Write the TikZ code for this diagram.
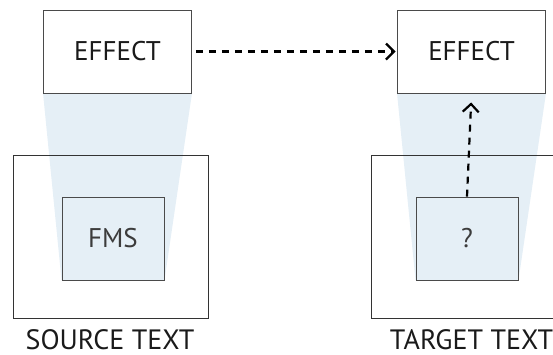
\documentclass[tikz,border=0pt]{standalone}
\usepackage{fontspec}
\setmainfont{PT Sans}
\usetikzlibrary{arrows.meta,backgrounds}
\definecolor{lens}{HTML}{E5EFF6}
\definecolor{edge}{HTML}{4A4A4A}
\definecolor{ink}{HTML}{1A1A1A}
\tikzset{
  lbl/.style={font=\fontsize{27}{32}\selectfont, text=ink},
  caption/.style={font=\fontsize{28}{33}\selectfont, text=ink, inner sep=0pt},
  effectbox/.style={draw=edge, line width=0.9pt, fill=white, minimum width=148pt, minimum height=83pt, inner sep=0pt, lbl},
  textbox/.style={draw=black!80, line width=0.9pt, minimum height=163pt, inner sep=0pt},
  unitbox/.style={draw=edge, line width=0.9pt, fill=lens, minimum width=102pt, minimum height=83pt, inner sep=0pt, lbl, text=ink!85},
  link/.style={draw=black, line width=2.2pt, dash pattern=on 7pt off 6pt, -{Straight Barb[length=8pt,width=16pt,line width=2.2pt]}},
}
\begin{document}
\begin{tikzpicture}[x=1pt,y=-1pt]
\clip (0,0) rectangle (553,354);
\useasboundingbox (0,0) rectangle (553,354);
% source side
\node[effectbox] (e1) at (117.5,51.5) {EFFECT};
\node[textbox, minimum width=195pt] (s) at (110.5,236.5) {};
\node[unitbox] (f) at (113,238.5) {FMS};
\node[caption] (sl) at (110,340) {SOURCE TEXT};
% target side
\node[effectbox] (e2) at (471.5,51.5) {EFFECT};
\node[textbox, minimum width=200pt, anchor=west] (t) at (371,236.5) {};
\node[unitbox] (q) at (467,238.5) {?};
\node[caption] (tl) at (471.5,340) {TARGET TEXT};
% projection cones behind the boxes
\begin{scope}[on background layer]
  \fill[lens] (e1.south west) -- (e1.south east) -- (f.south east) -- (f.south west) -- cycle;
  \fill[lens] (e2.south west) -- (e2.south east) -- (q.south east) -- (q.south west) -- cycle;
\end{scope}
% dashed connectors
\draw[link, shorten >=1.5pt] (e1.east) ++(4,0) coordinate (h0) -- (e2.west);
\draw[link, shorten >=9pt] (q.north) -- (e2.south);
\end{tikzpicture}
\end{document}
